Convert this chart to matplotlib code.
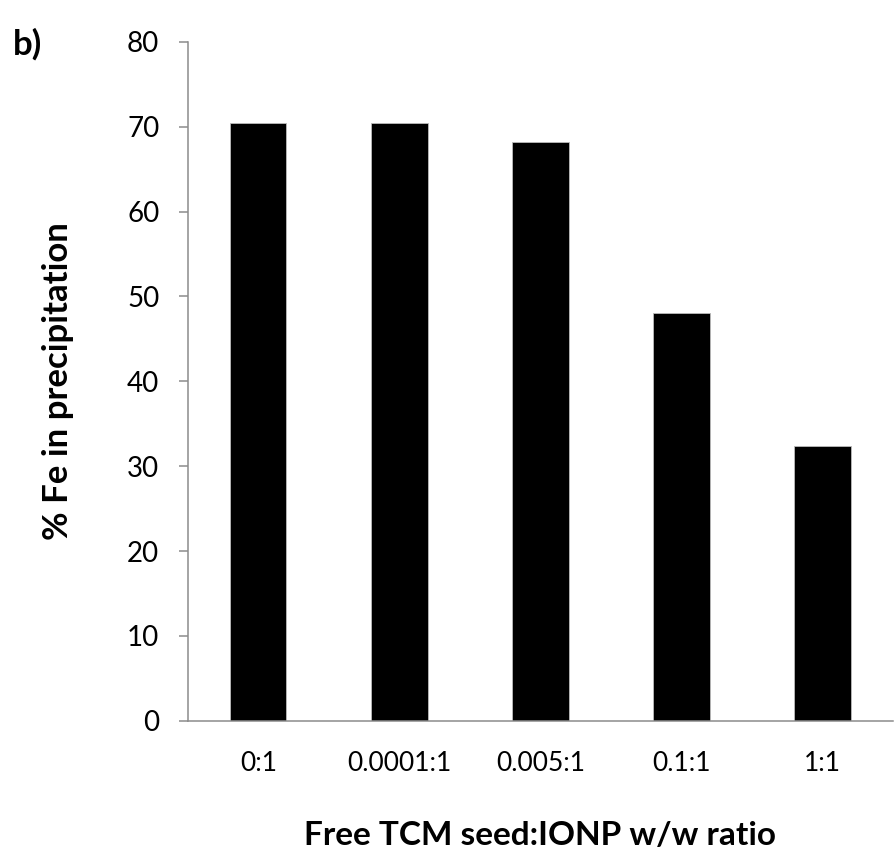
import matplotlib
matplotlib.use("Agg")
import matplotlib.pyplot as plt

categories = ["0:1", "0.0001:1", "0.005:1", "0.1:1", "1:1"]
fe_precip = [70.4, 70.4, 68.2, 48.1, 32.4]
y_ticks = [0, 10, 20, 30, 40, 50, 60, 70, 80]

plt.rcParams['font.family'] = ['Lato', 'DejaVu Sans']

fig = plt.figure(figsize=(8.94, 8.52), dpi=100)
ax = fig.add_axes([0.21, 0.154, 0.789, 0.797])

x = range(len(categories))
ax.bar(x, fe_precip, width=0.4, color="black", edgecolor="#bbbbbb", linewidth=0.6)

ax.set_xlim(-0.5, len(categories) - 0.5)
ax.set_ylim(0, 80)
ax.set_yticks(y_ticks)
ax.set_xticks(list(x))
ax.set_xticklabels(categories)

for s in ["top", "right"]:
    ax.spines[s].set_visible(False)
for s in ["left", "bottom"]:
    ax.spines[s].set_color("#8c8c8c")
    ax.spines[s].set_linewidth(1.1)

ax.tick_params(axis="y", direction="out", length=6.5, width=1.1, color="#8c8c8c",
               pad=14, labelsize=20)
ax.tick_params(axis="x", length=0, pad=22, labelsize=19)

ax.set_xlabel("Free TCM seed:IONP w/w ratio", fontsize=24, fontweight="bold", labelpad=32)
ax.set_ylabel("% Fe in precipitation", fontsize=25, fontweight="bold", labelpad=38)

fig.text(0.014, 0.967, "b)", fontsize=25, fontweight="bold", va="top", ha="left")

fig.savefig("out.png", dpi=100)
